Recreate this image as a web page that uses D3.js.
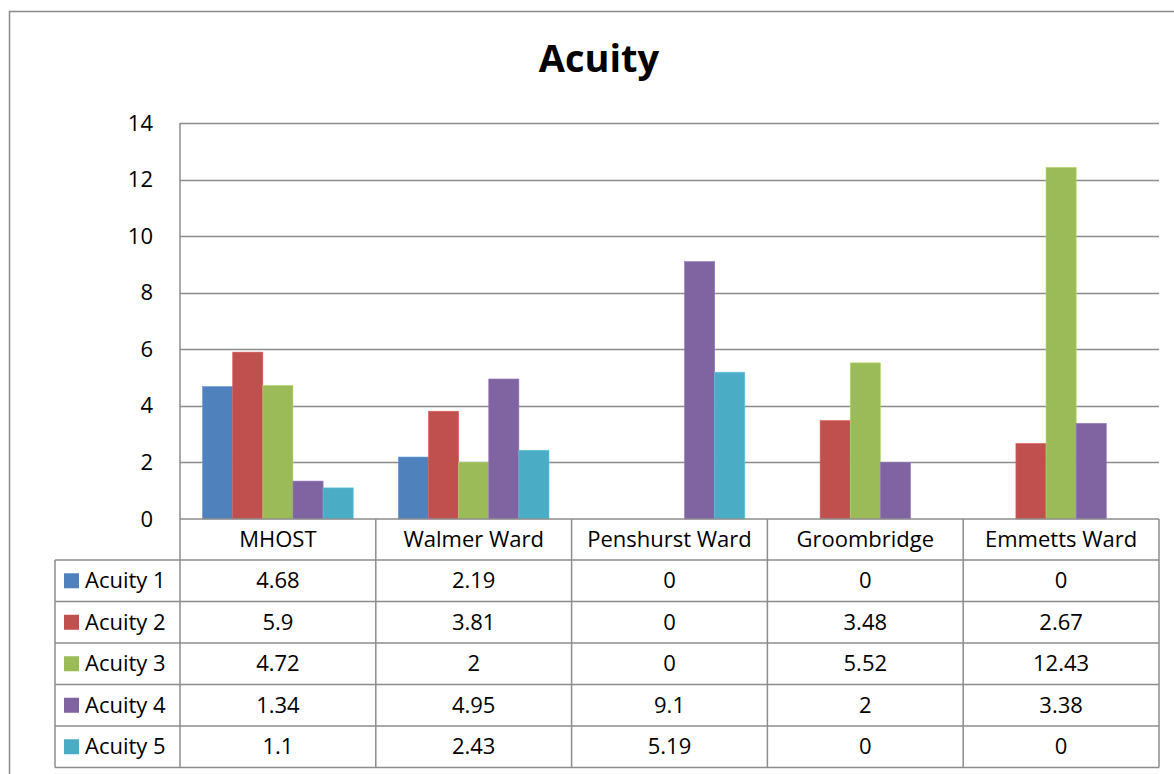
<!DOCTYPE html>
<html>
<head>
<meta charset="utf-8">
<script src="https://cdn.jsdelivr.net/npm/d3@7"></script>
<style>
  html, body { margin: 0; padding: 0; background: #fff; }
  svg { display: block; font-family: "Open Sans", Lato, sans-serif; }
</style>
</head>
<body>
<svg id="chart" width="1174" height="774"></svg>
<script>
// Wards shown along the category axis
const categories = ["MHOST", "Walmer Ward", "Penshurst Ward", "Groombridge", "Emmetts Ward"];
// One entry per acuity level, values per ward
const seriesNames = ["Acuity 1", "Acuity 2", "Acuity 3", "Acuity 4", "Acuity 5"];
const acuity1 = [4.68, 2.19, 0, 0, 0];
const acuity2 = [5.9, 3.81, 0, 3.48, 2.67];
const acuity3 = [4.72, 2, 0, 5.52, 12.43];
const acuity4 = [1.34, 4.95, 9.1, 2, 3.38];
const acuity5 = [1.1, 2.43, 5.19, 0, 0];
const yTicks = [0, 2, 4, 6, 8, 10, 12, 14];
const colors = ["#4F81BD", "#C0504D", "#9BBB59", "#8064A2", "#4BACC6"];

const seriesValues = [acuity1, acuity2, acuity3, acuity4, acuity5];
const series = seriesNames.map((name, i) => ({ name, values: seriesValues[i], color: colors[i] }));

const svg = d3.select("#chart");
const gridColor = "#8c8c8c";
const fontSize = 22;

// Plot area
const plot = { left: 180, right: 1159, top: 123, bottom: 519 };
const rowH = 41.5;
const headerH = 41;
const legendLeft = 55;

// Outer chart frame (runs past the right and bottom edges)
svg.append("path")
  .attr("d", "M9.5,790 L9.5,11.5 L1190,11.5")
  .attr("fill", "none").attr("stroke", "#8a8a8a").attr("stroke-width", 1.5);

// Title
svg.append("text")
  .attr("x", 599).attr("y", 72)
  .attr("text-anchor", "middle")
  .attr("font-size", 38).attr("font-weight", "bold").attr("fill", "#000")
  .text("Acuity");

const x0 = d3.scaleBand().domain(categories).range([plot.left, plot.right]).paddingInner(0).paddingOuter(0);
// 150% gap width: five bars plus 0.75 bar-widths of space at each side
const x1 = d3.scaleBand().domain(seriesNames).range([0, x0.bandwidth()]).paddingInner(0).paddingOuter(0.75);
const y = d3.scaleLinear().domain([0, 14]).range([plot.bottom, plot.top]);

// Horizontal gridlines and y-axis labels
const yAxis = d3.axisLeft(y).tickValues(yTicks).tickSize(0).tickPadding(27).tickFormat(d3.format("d"));
const ya = svg.append("g").attr("transform", `translate(${plot.left},0)`).call(yAxis);
ya.select(".domain").remove();
ya.selectAll("text").attr("font-size", fontSize).attr("fill", "#000").attr("font-family", "'Open Sans', Lato, sans-serif");

svg.append("g").selectAll("line").data(yTicks.filter(d => d > 0)).join("line")
  .attr("x1", plot.left).attr("x2", plot.right)
  .attr("y1", d => Math.round(y(d)) + 0.5).attr("y2", d => Math.round(y(d)) + 0.5)
  .attr("stroke", gridColor).attr("stroke-width", 1.5);

// Bars
const groups = svg.append("g").selectAll("g").data(categories).join("g")
  .attr("transform", d => `translate(${x0(d)},0)`);
groups.selectAll("rect")
  .data((c, ci) => series.map(s => ({ name: s.name, value: s.values[ci], color: s.color })))
  .join("rect")
  .attr("x", d => x1(d.name))
  .attr("width", x1.bandwidth())
  .attr("y", d => y(d.value))
  .attr("height", d => y(0) - y(d.value))
  .attr("fill", d => d.color)
  .attr("stroke", d => d3.color(d.color).brighter(0.4))
  .attr("stroke-width", 0.6);

// Data table
const tableTop = plot.bottom;
const rowsTop = tableTop + headerH;
const tableBottom = rowsTop + rowH * series.length;
const lines = svg.append("g").attr("stroke", gridColor).attr("stroke-width", 1.5).attr("fill", "none");

// Header row top border
lines.append("line").attr("x1", plot.left).attr("x2", plot.right).attr("y1", tableTop).attr("y2", tableTop);
// Row borders
for (let i = 0; i <= series.length; i++) {
  const yy = rowsTop + i * rowH;
  lines.append("line").attr("x1", legendLeft).attr("x2", plot.right).attr("y1", yy).attr("y2", yy);
}
// Vertical borders: value axis line and column dividers
lines.append("line").attr("x1", plot.left).attr("x2", plot.left).attr("y1", plot.top).attr("y2", tableBottom);
categories.forEach(c => {
  const xx = x0(c) + x0.bandwidth();
  lines.append("line").attr("x1", xx).attr("x2", xx).attr("y1", tableTop).attr("y2", tableBottom);
});
lines.append("line").attr("x1", legendLeft).attr("x2", legendLeft).attr("y1", rowsTop).attr("y2", tableBottom);

// Category header labels
svg.append("g").selectAll("text").data(categories).join("text")
  .attr("x", d => x0(d) + x0.bandwidth() / 2)
  .attr("y", tableTop + headerH / 2)
  .attr("dy", "0.35em")
  .attr("text-anchor", "middle").attr("font-size", fontSize).attr("fill", "#000")
  .text(d => d);

// Legend keys and values per row
const rows = svg.append("g").selectAll("g").data(series).join("g")
  .attr("transform", (d, i) => `translate(0,${rowsTop + i * rowH})`);
rows.append("rect")
  .attr("x", 64).attr("y", rowH / 2 - 7.5).attr("width", 15).attr("height", 15)
  .attr("fill", d => d.color);
rows.append("text")
  .attr("x", 85).attr("y", rowH / 2).attr("dy", "0.35em")
  .attr("font-size", fontSize).attr("fill", "#000")
  .text(d => d.name);
rows.selectAll("text.val").data(d => d.values.map((v, ci) => ({ v, c: categories[ci] }))).join("text")
  .attr("class", "val")
  .attr("x", d => x0(d.c) + x0.bandwidth() / 2)
  .attr("y", rowH / 2).attr("dy", "0.35em")
  .attr("text-anchor", "middle").attr("font-size", fontSize).attr("fill", "#000")
  .text(d => String(d.v));
</script>
</body>
</html>
